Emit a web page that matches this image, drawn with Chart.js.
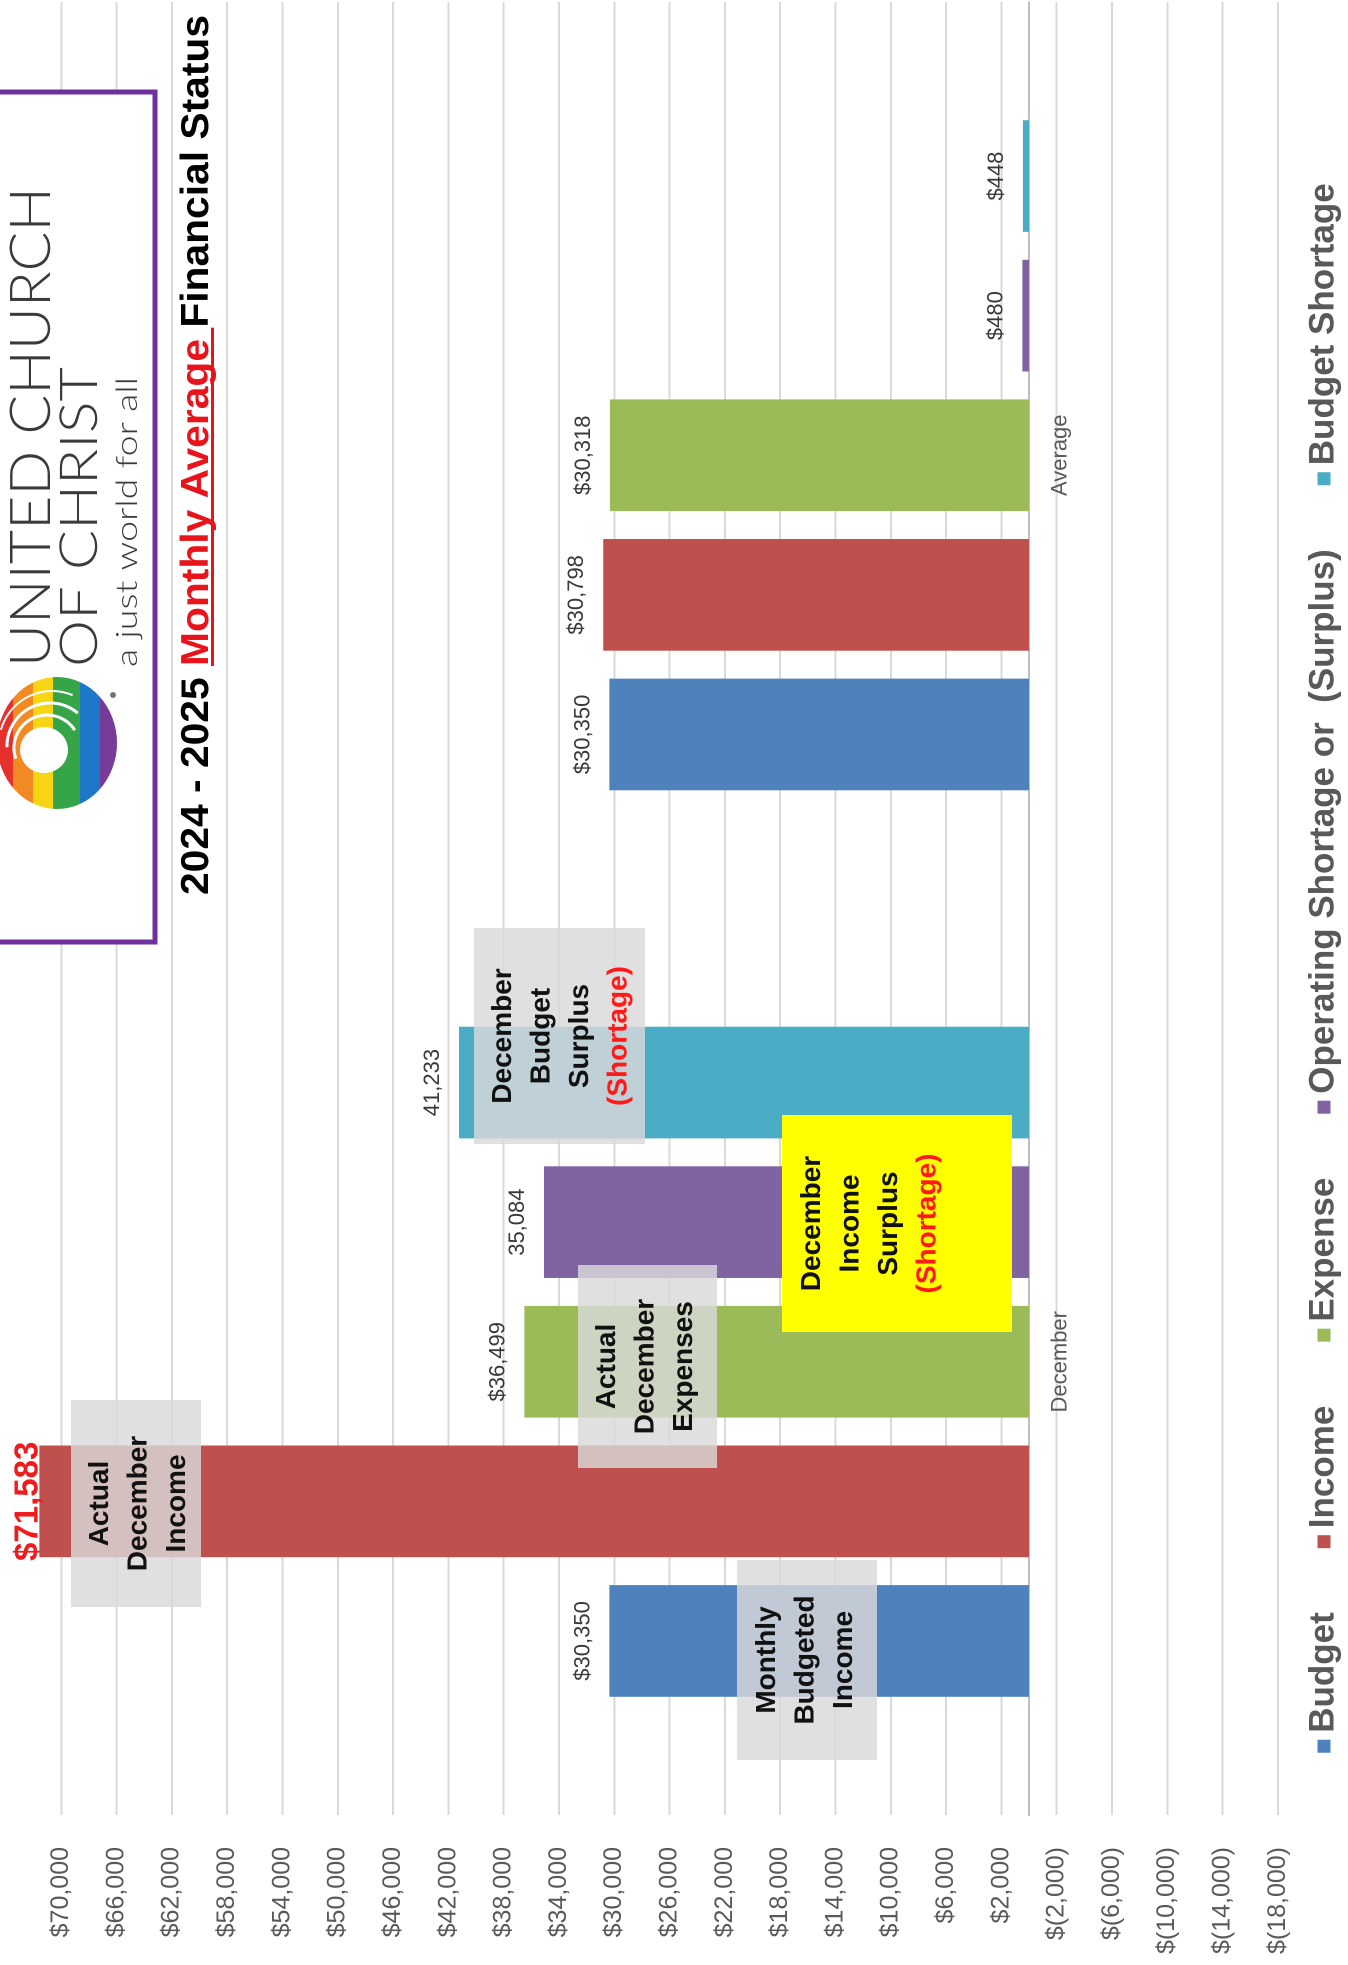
<!DOCTYPE html>
<html>
<head>
<meta charset="utf-8">
<title>2024 - 2025 Monthly Average Financial Status</title>
<script src="https://cdn.jsdelivr.net/npm/chart.js@4.4.1/dist/chart.umd.min.js"></script>
<style>
  html, body { margin: 0; padding: 0; background: #fff; overflow: hidden; }
  /* the chart is drawn landscape and turned a quarter turn, like the photo */
  #quadro {
    position: absolute; left: 0; top: 0; width: 1965px; height: 1348px;
    transform-origin: 0 0; transform: translate(0, 1965px) rotate(-90deg);
  }
</style>
</head>
<body>
<div id="quadro"><canvas id="grafico" width="1965" height="1348"></canvas></div>
<script>
// data
const categorias = ["December", "Average"];
const nomesSeries = ["Budget", "Income", "Expense", "Operating Shortage or  (Surplus)", "Budget Shortage"];
const budget = [30350, 30350];
const income = [71583, 30798];
const expense = [36499, 30318];
const operatingShortage = [35084, 480];
const budgetShortage = [41233, 448];
// some December labels are printed without the $ sign
const comCifrao = [[true, true], [true, true], [true, true], [false, true], [false, true]];
const ticksY = [70000, 66000, 62000, 58000, 54000, 50000, 46000, 42000, 38000, 34000, 30000,
  26000, 22000, 18000, 14000, 10000, 6000, 2000, -2000, -6000, -10000, -14000, -18000];

const cores = ["#4f81bd", "#c0504d", "#9bbb59", "#8064a2", "#4bacc6"];
const fonte = '"Liberation Sans", Arial, sans-serif';
// where the plot area has to sit on the canvas
const areaTopo = 33.6, areaBase = 1277.9;

function dinheiro(valor, cifrao) {
  var s = Math.abs(valor).toLocaleString("en-US");
  if (valor < 0) return "$(" + s + ")";
  return (cifrao ? "$" : "") + s;
}

// text boxes laid over the bars
const notas = [
  { x: 205, y: 737, w: 200, h: 140, fundo: "rgba(217,217,217,0.82)", meio: 806, linhas: ["Monthly", "Budgeted", "Income"] },
  { x: 358, y: 71, w: 207, h: 130, fundo: "rgba(217,217,217,0.82)", meio: 139, linhas: ["Actual", "December", "Income"] },
  { x: 497, y: 578, w: 203, h: 139, fundo: "rgba(217,217,217,0.82)", meio: 646, linhas: ["Actual", "December", "Expenses"] },
  { x: 821, y: 474, w: 216, h: 171, fundo: "rgba(217,217,217,0.82)", meio: 561, linhas: ["December", "Budget", "Surplus", "(Shortage)"] },
  { x: 633, y: 782, w: 217, h: 230, fundo: "#ffff00", meio: 870, linhas: ["December", "Income", "Surplus", "(Shortage)"] },
];

function textoAjustado(ctx, texto, x, y, largura) {
  var w = ctx.measureText(texto).width;
  ctx.save();
  ctx.translate(x, y);
  ctx.scale(largura / w, 1);
  ctx.fillText(texto, 0, 0);
  ctx.restore();
}

function desenharLogo(ctx) {
  // purple frame round the logo
  ctx.fillStyle = "#fff";
  ctx.fillRect(1023, -10, 850, 165);
  ctx.strokeStyle = "#7030a0";
  ctx.lineWidth = 5;
  ctx.strokeRect(1023, -10, 850, 165);

  // rainbow swirl
  ctx.save();
  ctx.beginPath();
  ctx.ellipse(1222, 57, 66, 60, 0, 0, 2 * Math.PI);
  ctx.clip();
  var faixas = [["#e4312b", -5, 13], ["#f18a22", 13, 33], ["#f8d514", 33, 53],
    ["#36a547", 53, 80], ["#1f77c7", 80, 100], ["#783b97", 100, 125]];
  faixas.forEach(function (f) {
    ctx.fillStyle = f[0];
    ctx.fillRect(1150, f[1], 150, f[2] - f[1]);
  });
  ctx.fillStyle = "#fff";
  ctx.beginPath();
  ctx.ellipse(1215, 44, 23, 24, 0, 0, 2 * Math.PI);
  ctx.fill();
  ctx.strokeStyle = "#fff";
  ctx.lineWidth = 3;
  ctx.beginPath();
  ctx.arc(1217, 47, 33, -1.9, 1.0);
  ctx.stroke();
  ctx.beginPath();
  ctx.arc(1219, 50, 43, -1.6, 0.7);
  ctx.stroke();
  ctx.lineWidth = 2;
  ctx.beginPath();
  ctx.arc(1221, 52, 53, -1.3, 0.4);
  ctx.stroke();
  ctx.restore();
  ctx.fillStyle = "#777";
  ctx.beginPath();
  ctx.arc(1270, 113, 3, 0, 2 * Math.PI);
  ctx.fill();

  ctx.fillStyle = "#3a3a3a";
  ctx.textAlign = "left";
  ctx.textBaseline = "alphabetic";
  ctx.font = '300 56px Lato, "DejaVu Sans", sans-serif';
  textoAjustado(ctx, "UNITED CHURCH", 1298, 50, 480);
  ctx.font = '300 52px Lato, "DejaVu Sans", sans-serif';
  textoAjustado(ctx, "OF CHRIST", 1298, 97, 300);
  ctx.font = '300 30px Lato, "DejaVu Sans", sans-serif';
  textoAjustado(ctx, "a just world for all", 1298, 137, 290);
}

function desenharTitulo(ctx) {
  var partes = [["2024 - 2025 ", "#000"], ["Monthly Average", "#e8141b"], [" Financial Status", "#000"]];
  ctx.font = "bold 39px " + fonte;
  ctx.textAlign = "left";
  ctx.textBaseline = "alphabetic";
  var total = 0;
  partes.forEach(function (p) { total += ctx.measureText(p[0]).width; });
  ctx.save();
  ctx.translate(1070, 208);
  ctx.scale(880 / total, 1);
  var x = 0;
  partes.forEach(function (p) {
    var w = ctx.measureText(p[0]).width;
    ctx.fillStyle = p[1];
    ctx.fillText(p[0], x, 0);
    if (p[0] == "Monthly Average") {
      ctx.fillRect(x, 3, w + ctx.measureText(" ").width, 3);
    }
    x += w;
  });
  ctx.restore();
}

function desenharLegenda(ctx) {
  ctx.font = "bold 35px " + fonte;
  ctx.textBaseline = "middle";
  ctx.textAlign = "left";
  var quadrado = 13, espaco = 7, intervalo = 64;
  var total = 0;
  nomesSeries.forEach(function (n, i) {
    total += quadrado + espaco + ctx.measureText(n).width + (i > 0 ? intervalo : 0);
  });
  var x = 997 - total / 2, y = 1324;
  nomesSeries.forEach(function (n, i) {
    ctx.fillStyle = cores[i];
    ctx.fillRect(x, y - quadrado / 2, quadrado, quadrado);
    x += quadrado + espaco;
    ctx.fillStyle = "#595959";
    ctx.fillText(n, x, y);
    x += ctx.measureText(n).width + intervalo;
  });
}

const extras = {
  id: "extras",
  afterDatasetsDraw(chart) {
    var ctx = chart.ctx;
    ctx.save();
    // value labels over every bar
    ctx.textAlign = "center";
    ctx.textBaseline = "alphabetic";
    chart.data.datasets.forEach(function (ds, i) {
      chart.getDatasetMeta(i).data.forEach(function (bar, j) {
        var texto = dinheiro(ds.data[j], comCifrao[i][j]);
        if (i == 1 && j == 0) {
          ctx.font = "bold 33px " + fonte;
          ctx.fillStyle = "#ee1c1c";
          ctx.fillText(texto, bar.x, bar.y - 2);
        } else {
          ctx.font = "22px " + fonte;
          ctx.fillStyle = "#383838";
          ctx.fillText(texto, bar.x, bar.y - 20);
        }
      });
    });
    // note boxes
    notas.forEach(function (n) {
      ctx.fillStyle = n.fundo;
      ctx.fillRect(n.x, n.y, n.w, n.h);
      ctx.font = "bold 28px " + fonte;
      ctx.textBaseline = "middle";
      n.linhas.forEach(function (l, k) {
        ctx.fillStyle = l == "(Shortage)" ? "#ff1a1a" : "#111";
        ctx.fillText(l, n.x + n.w / 2, n.meio + (k - (n.linhas.length - 1) / 2) * 38.5);
      });
    });
    ctx.restore();
  },
  afterDraw(chart) {
    var ctx = chart.ctx;
    ctx.save();
    desenharLogo(ctx);
    desenharTitulo(ctx);
    desenharLegenda(ctx);
    ctx.restore();
  },
};

var series = [budget, income, expense, operatingShortage, budgetShortage];

const config = {
  type: "bar",
  data: {
    labels: categorias,
    datasets: series.map(function (d, i) {
      return {
        label: nomesSeries[i],
        data: d,
        backgroundColor: cores[i],
        borderWidth: 0,
        categoryPercentage: 0.77,
        barPercentage: 0.8,
      };
    }),
  },
  options: {
    responsive: false,
    animation: false,
    devicePixelRatio: 2,
    layout: { padding: { top: areaTopo, bottom: 1348 - areaBase, left: 0, right: 2 } },
    plugins: {
      legend: { display: false },
      tooltip: { enabled: false },
    },
    scales: {
      y: {
        min: -18000,
        max: 72000,
        afterBuildTicks: function (scale) {
          scale.ticks = ticksY.map(function (v) { return { value: v }; });
        },
        afterFit: function (scale) {
          // fixed axis width; the tick padding should not push the plot down
          scale.width = 150;
          scale.paddingTop = 0;
          scale.paddingBottom = 0;
        },
        grid: { color: "#d9d9d9", lineWidth: 2, drawTicks: false },
        border: { display: false },
        ticks: {
          padding: 32,
          color: "#595959",
          font: { family: fonte, size: 25 },
          callback: function (v) { return dinheiro(v, true); },
        },
      },
      x: {
        position: { y: 0 },
        grid: { display: false },
        border: { display: true, color: "#bfbfbf", width: 2 },
        ticks: {
          padding: 10,
          color: "#595959",
          font: { family: fonte, size: 22 },
        },
      },
    },
  },
  plugins: [extras],
};

let grafico = new Chart(document.getElementById("grafico"), config);

// nudge the padding until the plot area sits where the picture has it
for (var k = 0; k < 3; k++) {
  var area = grafico.chartArea;
  var pad = grafico.config.options.layout.padding;
  pad.top += areaTopo - area.top;
  pad.bottom += area.bottom - areaBase;
  grafico.update();
}
</script>
</body>
</html>
